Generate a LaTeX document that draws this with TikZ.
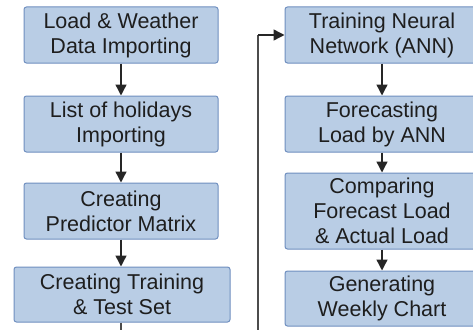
\documentclass[tikz,border=0pt]{standalone}
\usepackage{fontspec}
\setmainfont{Liberation Sans}
\usetikzlibrary{arrows.meta}
\definecolor{boxfill}{HTML}{B9CDE5}
\definecolor{boxline}{HTML}{6F8FBF}
\definecolor{txt}{HTML}{1E1E1E}
\begin{document}
\begin{tikzpicture}[x=1pt,y=-1pt,
  stepbox/.style={draw=boxline, line width=1pt, fill=boxfill, rounded corners=2.5pt,
    align=center, text=txt, inner sep=0pt,
    font=\fontsize{21.5}{25}\selectfont},
  flow/.style={line width=1.4pt, draw=black!85,
    -{Triangle[width=11pt,length=11pt]}},
  loop/.style={line width=1.6pt, draw=black!70}]
\useasboundingbox (0,0) rectangle (473,329);
\clip (0,0) rectangle (473,329);
% left column
\node[stepbox, minimum width=194pt, minimum height=56pt] (load) at (121,35)
  {Load \& Weather\\Data Importing};
\node[stepbox, minimum width=194pt, minimum height=56pt] (hol) at (121,124)
  {List of holidays\\Importing};
\node[stepbox, minimum width=194pt, minimum height=56pt] (pred) at (121,211)
  {Creating\\Predictor Matrix};
\node[stepbox, minimum width=216pt, minimum height=55pt] (sets) at (122,294.5)
  {Creating Training\\\& Test Set};
% right column
\node[stepbox, minimum width=194pt, minimum height=56pt] (ann) at (382,35)
  {Training Neural\\Network (ANN)};
\node[stepbox, minimum width=194pt, minimum height=56pt] (fc) at (382,124)
  {Forecasting\\Load by ANN};
\node[stepbox, minimum width=194pt, minimum height=76pt] (cmp) at (382,211)
  {Comparing\\Forecast Load\\\& Actual Load};
\node[stepbox, minimum width=194pt, minimum height=55pt] (chart) at (382,298.5)
  {Generating\\Weekly Chart};
% connectors
\draw[flow] (load) -- (hol);
\draw[flow] (hol) -- (pred);
\draw[flow] (pred) -- (sets.north -| pred);
\draw[flow] (ann) -- (fc);
\draw[flow] (fc) -- (cmp);
\draw[flow] (cmp) -- (chart);
% return path from the training set to the network
\coordinate (down) at (121,345);
\coordinate (up) at (258,345);
\draw[loop] (sets.south -| down) -- (down) -- (up) -- (up |- ann.west);
\draw[flow] (up |- ann.west) -- (ann.west);
\end{tikzpicture}
\end{document}
